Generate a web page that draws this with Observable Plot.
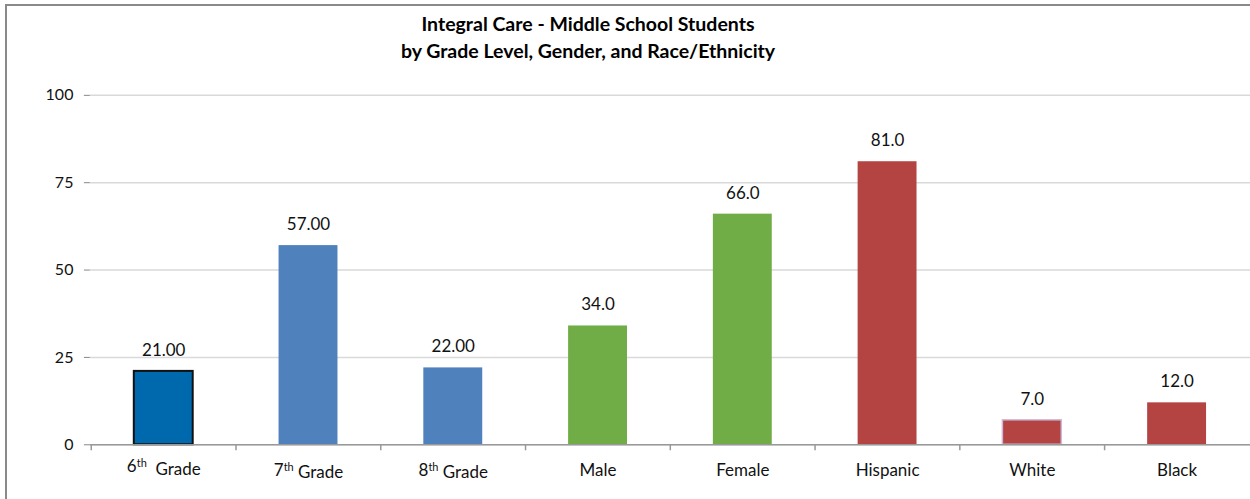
<!DOCTYPE html>
<html>
<head>
<meta charset="utf-8">
<script src="https://cdn.jsdelivr.net/npm/d3@7"></script>
<script src="https://cdn.jsdelivr.net/npm/@observablehq/plot@0.6"></script>
<style>
  html, body { margin: 0; padding: 0; background: #fff; overflow: hidden; width: 1250px; height: 499px; }
  #frame { position: absolute; left: 5px; top: 4px; width: 1300px; height: 600px; border-left: 2px solid #8a8a8a; border-top: 2px solid #8a8a8a; }
  #title { position: absolute; left: 0; top: 10px; width: 1176px; text-align: center; font-family: Lato, "Open Sans", sans-serif; font-weight: bold; font-size: 19.5px; line-height: 27px; color: #000; }
  #chart { position: absolute; left: 0; top: 0; }
</style>
</head>
<body>
<div id="frame"></div>
<div id="title">Integral Care - Middle School Students<br>by Grade Level, Gender, and Race/Ethnicity</div>
<div id="chart"></div>
<script>
const categories = ["6th Grade", "7th Grade", "8th Grade", "Male", "Female", "Hispanic", "White", "Black"];
const values = [21, 57, 22, 34, 66, 81, 7, 12];
const valueLabels = ["21.00", "57.00", "22.00", "34.0", "66.0", "81.0", "7.0", "12.0"];
const fills = ["#0069AE", "#4F81BD", "#4F81BD", "#70AD47", "#70AD47", "#B44442", "#B44442", "#B44442"];
const strokes = ["#111111", "none", "none", "none", "none", "none", "#CDB9DC", "none"];
const yTicks = [0, 25, 50, 75, 100];

const data = categories.map((c, i) => ({
  category: c, value: values[i], label: valueLabels[i], fill: fills[i], stroke: strokes[i]
}));

const W = 1252, H = 499;
const chart = Plot.plot({
  width: W, height: H,
  marginTop: 95, marginBottom: 54, marginLeft: 90, marginRight: 0,
  style: { fontFamily: "Lato, 'Open Sans', sans-serif", fontSize: "17px", color: "#111", background: "transparent" },
  x: { domain: categories, padding: 0, label: null },
  y: { domain: [0, 100], label: null },
  marks: [
    Plot.gridY(yTicks, { stroke: "#d9d9d9", strokeOpacity: 1, strokeWidth: 1.5 }),
    Plot.axisY(yTicks, { tickSize: 6, tickPadding: 11, stroke: "#888", label: null, fontSize: 16 }),
    Plot.barY(data, { x: "category", y: "value", fill: "fill", stroke: "stroke", strokeWidth: d => d.stroke === "#111111" ? 2 : 1.5, insetLeft: 43, insetRight: 43 }),
    Plot.ruleY([0], { stroke: "#999", strokeWidth: 1.5 }),
    Plot.ruleX(categories, { x: d => d, dx: -(W - 90) / categories.length / 2, insetTop: 350, insetBottom: -6, stroke: "#999", strokeWidth: 1.5 }),
    Plot.axisX({ tickSize: 0, tickPadding: 19, label: null, fontSize: 17 }),
    Plot.text(data, { x: "category", y: "value", text: "label", dy: -21, fontSize: 17, fill: "#111" })
  ]
});
document.getElementById("chart").appendChild(chart);

// superscript ordinal suffixes in x tick labels
d3.select(chart).selectAll('g[aria-label="x-axis tick label"] text').each(function () {
  const t = this.textContent;
  const m = t.match(/^(\d)(th)\s+(.*)$/);
  if (!m) return;
  const sel = d3.select(this);
  sel.text(null);
  sel.append("tspan").text(m[1]);
  sel.append("tspan").attr("font-size", 11).attr("dy", "-0.45em").text(m[2]);
  sel.append("tspan").attr("dy", "0.45em").text((m[1] === "6" ? "\u00a0 " : " ") + m[3]);
  if (m[1] === "6") this.setAttribute("transform", ((this.getAttribute("transform") || "") + " translate(0,-4)").trim());
});
</script>
</body>
</html>
